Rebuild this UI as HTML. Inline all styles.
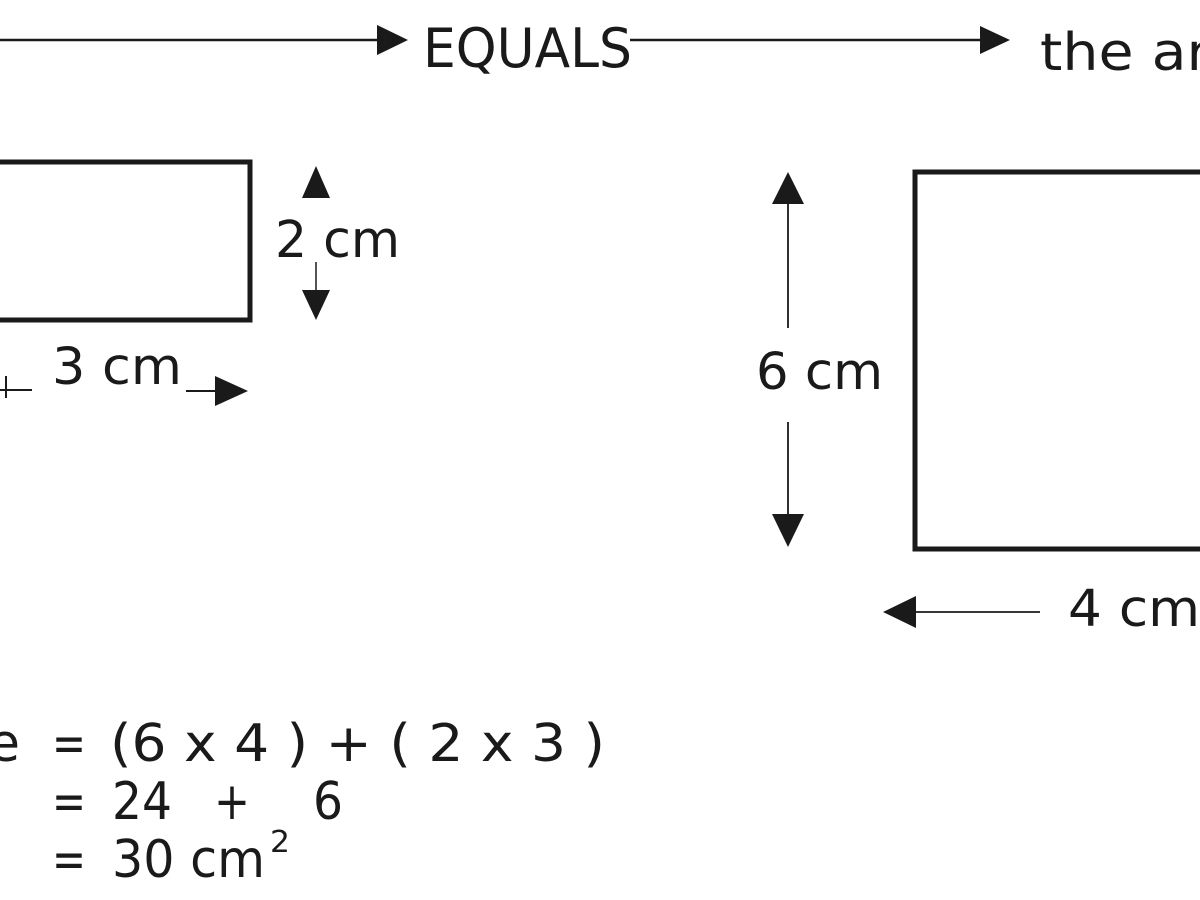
<!DOCTYPE html>
<html><head><meta charset="utf-8"><style>
html,body{margin:0;padding:0;background:#fff;}
svg{display:block;}
text{font-family:"DejaVu Sans","Liberation Sans",sans-serif;fill:#1a1a1a;}
</style></head><body>
<svg width="1200" height="900" viewBox="0 0 1200 900" xmlns="http://www.w3.org/2000/svg">
<g stroke="#1a1a1a" fill="none">
  <line x1="0" y1="40" x2="380" y2="40" stroke-width="2.5"/>
  <line x1="630" y1="40" x2="982" y2="40" stroke-width="2.5"/>
  <rect x="-10" y="162" width="260" height="158" stroke-width="5"/>
  <rect x="915" y="172" width="310" height="377" stroke-width="5"/>
  <line x1="316" y1="262" x2="316" y2="292" stroke-width="1.5"/>
  <line x1="0" y1="390" x2="32" y2="390" stroke-width="2"/>
  <line x1="6" y1="376" x2="6" y2="398" stroke-width="2"/>
  <line x1="186" y1="391" x2="216" y2="391" stroke-width="2"/>
  <line x1="788" y1="200" x2="788" y2="328" stroke-width="1.8"/>
  <line x1="788" y1="422" x2="788" y2="518" stroke-width="1.8"/>
  <line x1="912" y1="612" x2="1040" y2="612" stroke-width="1.8"/>
</g>
<g fill="#1a1a1a">
  <polygon points="377,25 408,40 377,55"/>
  <polygon points="980,26 1010,40 980,54"/>
  <polygon points="302,198 316,166 330,198"/>
  <polygon points="302,290 316,320 330,290"/>
  <polygon points="215,376 248,391 215,406"/>
  <polygon points="772,204 788,172 804,204"/>
  <polygon points="772,514 788,547 804,514"/>
  <polygon points="883,612 916,596 916,628"/>
</g>
<text x="423" y="67" font-size="54" textLength="209" lengthAdjust="spacingAndGlyphs">EQUALS</text>
<text x="1040" y="70" font-size="52" textLength="170" lengthAdjust="spacingAndGlyphs">the ar</text>
<text x="275" y="257" font-size="51" textLength="125" lengthAdjust="spacingAndGlyphs">2 cm</text>
<text x="52" y="384" font-size="51" textLength="130" lengthAdjust="spacingAndGlyphs">3 cm</text>
<text x="756" y="389" font-size="51" textLength="127" lengthAdjust="spacingAndGlyphs">6 cm</text>
<text x="1068" y="626" font-size="51" textLength="132" lengthAdjust="spacingAndGlyphs">4 cm</text>
<text x="-12" y="761" font-size="52">e</text>
<text x="52" y="761" font-size="52" textLength="34" lengthAdjust="spacingAndGlyphs">=</text>
<text x="110" y="761" font-size="52" textLength="495" lengthAdjust="spacingAndGlyphs">(6 x 4 ) + ( 2 x 3 )</text>
<text x="52" y="819" font-size="52" textLength="34" lengthAdjust="spacingAndGlyphs">=</text>
<text x="112" y="819" font-size="52" textLength="60" lengthAdjust="spacingAndGlyphs">24</text>
<text x="214" y="819" font-size="52" textLength="36" lengthAdjust="spacingAndGlyphs">+</text>
<text x="313" y="819" font-size="52" textLength="30" lengthAdjust="spacingAndGlyphs">6</text>
<text x="52" y="877" font-size="52" textLength="34" lengthAdjust="spacingAndGlyphs">=</text>
<text x="112" y="877" font-size="52" textLength="153" lengthAdjust="spacingAndGlyphs">30 cm</text>
<text x="270" y="852" font-size="30" textLength="20" lengthAdjust="spacingAndGlyphs">2</text>
</svg>
</body></html>
